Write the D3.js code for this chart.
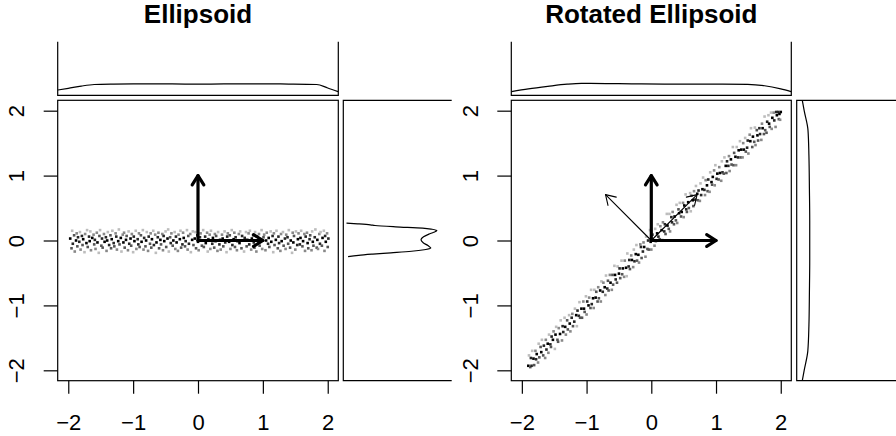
<!DOCTYPE html>
<html><head><meta charset="utf-8">
<script src="https://cdn.jsdelivr.net/npm/d3@7"></script>
<style>
html,body{margin:0;padding:0;background:#fff;}
svg{display:block;}
text{font-family:"Liberation Sans",Arial,Helvetica,sans-serif;fill:#000;}
</style>
</head><body>
<svg id="c" width="896" height="436"></svg>
<script>
// ---------- data (coordinates in hundredths of a unit) ----------
const tickValues = [-2, -1, 0, 1, 2];
const titles = ["Ellipsoid", "Rotated Ellipsoid"];

const leftX = [
-197,-195,-194,-193,-191,-190,-188,-187,-186,-185,-183,-182,-181,-179,-178,-177,-175,-174,-172,-171,
-170,-168,-167,-166,-165,-163,-161,-160,-159,-158,-156,-155,-153,-152,-151,-149,-148,-147,-145,-144,
-142,-141,-140,-139,-137,-135,-134,-133,-132,-130,-129,-127,-126,-125,-123,-122,-121,-119,-118,-116,
-115,-114,-113,-111,-110,-108,-107,-106,-104,-103,-102,-100,-99,-98,-96,-95,-93,-92,-91,-90,
-88,-87,-85,-84,-83,-81,-80,-79,-77,-76,-74,-73,-72,-71,-69,-68,-66,-65,-64,-62,
-61,-60,-58,-57,-55,-54,-53,-52,-50,-49,-47,-46,-45,-43,-42,-41,-39,-38,-36,-35,
-34,-33,-31,-30,-28,-27,-26,-24,-23,-22,-20,-19,-17,-16,-15,-14,-12,-11,-9,-8,
-7,-5,-4,-3,-1,0,1,3,4,6,7,8,9,11,12,14,15,16,18,19,
20,22,23,25,26,27,28,30,31,33,34,35,37,38,39,41,42,44,45,46,
48,49,50,52,53,55,56,57,58,60,61,63,64,65,67,68,69,71,72,74,
75,76,78,79,80,82,83,85,86,87,88,90,91,93,94,95,97,98,99,101,
102,104,105,106,108,109,110,112,113,115,116,117,118,120,121,123,124,125,127,128,
129,131,132,134,135,136,138,139,140,142,143,145,146,147,148,150,151,153,154,155,
157,158,159,161,162,164,165,166,168,169,170,172,173,175,176,177,178,180,181,183,
184,185,187,188,189,191,192,194,195,196,197,199,200,201];
const leftY = [
3,-12,15,-5,8,-17,0,11,-9,5,-2,13,-14,7,-7,2,-18,10,-4,16,
-10,6,-1,14,-15,4,9,-6,1,-13,12,-3,-19,7,16,-8,3,-11,10,-2,
5,-16,0,13,-7,8,-12,2,15,-4,-9,11,6,-14,-1,17,-6,4,-17,9,
-3,12,-11,1,7,-15,14,-5,3,-8,10,-18,6,-1,15,-13,2,-6,11,-10,
8,-2,16,-14,4,-9,0,13,-16,6,-5,11,-11,2,15,-7,9,-19,-3,5,
12,-12,1,-6,10,-15,7,-1,14,-10,3,17,-17,5,-4,11,-8,0,13,-13,
6,-3,-16,9,2,15,-11,-6,12,4,-9,-1,16,-14,7,-5,10,-18,1,14,
-7,3,13,-12,8,-2,-15,5,11,-8,0,16,-10,6,-4,12,-17,2,9,-13,
15,-5,4,-11,10,-1,7,-16,13,-6,1,-14,9,3,-9,14,-3,-18,6,11,
-2,8,-13,16,-7,2,12,-10,5,-15,-1,10,-4,14,-12,7,0,-17,4,13,
-9,1,11,-6,15,-14,3,8,-3,-11,13,-17,6,-1,10,-8,2,16,-13,5,
9,-15,0,12,-5,4,-10,14,-2,7,-18,11,-7,1,15,-12,6,-4,-16,10,
-1,13,-8,3,-13,9,5,-5,16,-11,0,-19,12,-3,7,-14,14,-7,2,11,
-6,4,15,-9,-1,10,-16,6,12,-4,-12,2,8,-15,14,-2,-8,5,17,-11,
1,-13,10,-5,13,-8,4,15,-16,7,-2,11,-10,3];
const leftShade = [
0,2,4,1,2,3,0,3,2,1,1,4,3,1,2,0,4,3,0,4,
2,1,0,4,3,0,3,2,1,3,3,0,4,2,4,2,1,2,3,0,
1,3,0,4,1,2,2,0,4,1,2,3,1,3,0,4,2,0,4,3,
0,3,2,0,2,3,4,1,0,2,3,4,1,0,4,3,1,1,3,2,
2,0,4,3,1,2,0,4,3,1,2,3,2,0,4,1,3,4,0,1,
3,2,0,2,3,3,1,0,4,2,0,4,4,2,1,3,2,0,4,3,
1,0,3,3,0,4,2,1,3,0,2,1,4,3,2,1,3,4,0,4,
2,0,4,2,1,0,3,1,3,2,0,4,2,1,0,3,4,1,3,3,
4,1,0,2,3,0,2,3,4,1,0,3,3,0,2,4,1,4,1,3,
0,2,3,4,1,0,3,2,1,3,0,3,0,4,2,1,0,4,1,4,
2,0,3,1,4,3,0,2,1,2,4,3,1,0,3,2,0,4,3,2,
3,3,0,3,1,0,2,4,0,1,4,3,2,0,4,2,1,1,3,3,
0,4,2,1,3,3,1,2,4,2,0,4,3,0,2,3,4,1,0,3,
1,0,4,2,0,3,3,1,3,0,2,1,2,3,4,0,2,1,4,2,
0,3,3,1,4,2,0,4,3,1,0,3,2,1];

const rightX = [
-190,-189,-187,-186,-185,-184,-182,-181,-179,-178,-177,-175,-174,-173,-171,-170,-169,-167,-166,-164,
-163,-162,-160,-159,-158,-156,-155,-154,-152,-151,-149,-148,-147,-145,-144,-143,-141,-140,-138,-137,
-136,-134,-133,-132,-130,-129,-127,-126,-125,-123,-122,-121,-119,-118,-116,-115,-114,-112,-111,-110,
-108,-107,-105,-104,-103,-101,-100,-99,-97,-96,-94,-93,-92,-90,-89,-88,-86,-85,-83,-82,
-81,-79,-78,-77,-75,-74,-72,-71,-70,-68,-67,-66,-64,-63,-61,-60,-59,-57,-56,-55,
-53,-52,-50,-49,-48,-46,-45,-44,-42,-41,-39,-38,-37,-35,-34,-33,-31,-30,-28,-27,
-26,-24,-23,-22,-20,-19,-17,-16,-15,-13,-12,-11,-9,-8,-6,-5,-4,-2,-1,0,
2,3,5,6,7,9,10,11,13,14,16,17,18,20,21,22,24,25,27,28,
29,31,32,33,35,36,38,39,40,42,43,44,46,47,49,50,51,53,54,55,
57,58,60,61,62,64,65,66,68,69,71,72,73,75,76,77,79,80,82,83,
84,86,87,88,90,91,93,94,95,97,98,99,101,102,104,105,106,108,109,110,
112,113,115,116,117,119,120,121,123,124,126,127,128,130,131,132,134,135,137,138,
139,141,142,143,145,146,148,149,150,152,153,154,156,157,159,160,161,163,164,165,
167,168,170,171,172,174,175,176,178,179,181,182,183,185,186,187,189,190,192,193,
194,196,197,198,199,200];
const rightY = [
-193,-177,-195,-181,-193,-170,-182,-192,-170,-183,-175,-188,-159,-180,-164,-172,-153,-177,-162,-181,
-153,-168,-159,-173,-145,-160,-164,-148,-153,-140,-167,-145,-133,-153,-156,-135,-144,-123,-154,-132,
-141,-119,-133,-145,-123,-137,-115,-128,-140,-119,-113,-132,-125,-105,-115,-132,-108,-116,-95,-119,
-105,-119,-94,-105,-110,-86,-114,-94,-100,-88,-104,-76,-98,-89,-104,-76,-88,-79,-94,-72,
-89,-77,-94,-63,-79,-65,-72,-84,-54,-74,-62,-77,-53,-65,-76,-53,-68,-39,-53,-60,
-65,-40,-51,-43,-58,-31,-52,-43,-56,-31,-42,-55,-20,-40,-30,-44,-23,-30,-41,-14,
-32,-21,-7,-31,-22,-34,-6,-10,-27,-17,-3,-10,-25,6,-13,0,-14,16,-2,-14,
9,0,-8,18,-1,11,25,6,2,22,16,1,28,14,25,10,41,23,18,41,
14,36,28,44,25,37,31,55,27,48,42,58,37,44,58,36,54,71,48,44,
59,50,73,45,69,62,53,76,63,84,72,62,77,61,88,70,79,97,78,70,
93,85,76,94,75,105,90,86,98,108,85,116,95,103,94,113,104,92,122,105,
103,128,115,104,122,115,130,107,125,117,144,116,135,129,116,144,128,139,153,128,
140,128,150,140,158,137,143,154,134,163,153,173,144,160,152,174,147,170,162,154,
173,164,155,180,173,164,191,170,166,183,193,180,175,197,172,189,197,185,175,198,
193,198,187,195,186,198];
const rightShade = [
0,4,2,1,1,4,0,2,3,1,0,3,4,2,2,0,4,2,1,3,
3,1,0,3,4,1,2,1,0,3,4,0,4,2,2,3,0,4,3,1,
1,4,0,3,2,2,4,0,3,1,3,2,1,4,0,4,1,1,4,2,
0,2,3,0,2,4,3,1,0,3,2,4,1,0,3,4,0,2,2,3,
2,0,3,4,1,3,0,3,4,1,2,2,3,0,3,2,2,4,0,1,
2,4,0,1,2,4,2,0,3,3,0,4,4,1,1,2,3,0,3,4,
1,0,4,2,0,3,3,1,2,1,3,0,3,4,2,1,2,4,0,3,
2,0,3,4,2,0,4,1,2,3,0,4,3,1,1,2,4,0,2,4,
3,1,1,3,2,0,2,4,3,2,0,4,2,0,3,3,0,4,1,2,
0,2,4,4,2,0,2,3,1,4,0,2,1,3,4,1,0,4,1,3,
3,0,2,1,3,4,0,2,0,3,3,4,1,0,2,3,0,3,4,1,
2,4,0,2,1,1,3,3,0,2,4,2,2,0,3,4,1,0,4,2,
0,3,3,0,4,2,1,1,3,3,0,4,2,0,2,4,3,2,0,2,
1,1,3,3,0,2,4,2,2,1,4,0,2,4,3,0,3,1,3,1,
0,1,2,0,3,0];

// marginal densities
const leftTopDensX = [-2.16,-2.0,-1.8,-1.6,-1.3,-1.0,-0.6,-0.2,0.2,0.6,1.0,1.4,1.83,2.0,2.16];
const leftTopDensV = [0.057,0.11,0.18,0.23,0.245,0.25,0.25,0.245,0.245,0.25,0.25,0.245,0.23,0.12,0.005];
const leftSideDensY = [0.268,0.257,0.242,0.231,0.211,0.191,0.173,0.154,0.126,0.099,0.057,0.011,-0.035,-0.082,-0.117,-0.143,-0.166,-0.190,-0.210,-0.228,-0.247];
const leftSideDensV = [0,0.35,0.75,0.9,1.55,2.4,2.7,2.85,2.75,2.6,2.43,2.35,2.42,2.58,2.66,2.45,2.05,1.4,0.83,0.38,0.05];
const rightTopDensX = [-2.16,-1.9,-1.6,-1.3,-1.08,-0.7,-0.3,0.2,0.7,1.1,1.49,1.75,2.0,2.16];
const rightTopDensV = [0.005,0.09,0.17,0.24,0.265,0.26,0.25,0.245,0.245,0.245,0.237,0.19,0.09,0.005];
const rightSideDensY = [2.16,2.0,1.7,1.3,0.8,0.3,-0.3,-0.8,-1.3,-1.7,-2.0,-2.16];
const rightSideDensV = [0.076,0.135,0.255,0.285,0.3,0.31,0.31,0.3,0.285,0.25,0.135,0.076];

// direction arrows
const leftThick = [[1,0],[0,1]];
const leftThin = [];
const rightThick = [[1,0],[0,1]];
const rightThin = [[0.707,0.707],[-0.707,0.707]];

const shadeColors = ["#000000","#262626","#555555","#888888","#bdbdbd"];

// ---------- drawing ----------
const svg = d3.select("#c");
const boxTop = 100.3, boxBottom = 380.7;
const margTop = 41.7, margBottom = 95.3;
const fmt = d3.format("d");

const panels = [
  {title:titles[0], left:57.7, right:338.3, sideLeft:343.3, sideRight:451.7,
   xs:leftX, ys:leftY, sh:leftShade,
   tdx:leftTopDensX, tdv:leftTopDensV, sdy:leftSideDensY, sdv:leftSideDensV,
   thick:leftThick, thin:leftThin},
  {title:titles[1], left:511.3, right:791.3, sideLeft:796.7, sideRight:900,
   xs:rightX, ys:rightY, sh:rightShade,
   tdx:rightTopDensX, tdv:rightTopDensV, sdy:rightSideDensY, sdv:rightSideDensV,
   thick:rightThick, thin:rightThin}
];

function drawArrow(g, x0, y0, x1, y1, w) {
  const a = Math.atan2(y1 - y0, x1 - x0);
  const len = 11, phi = Math.PI / 180 * 32;
  const w1 = [x1 - len * Math.cos(a - phi), y1 - len * Math.sin(a - phi)];
  const w2 = [x1 - len * Math.cos(a + phi), y1 - len * Math.sin(a + phi)];
  g.append("line").attr("x1", x0).attr("y1", y0).attr("x2", x1).attr("y2", y1)
    .attr("stroke", "#000").attr("stroke-width", w).attr("stroke-linecap", "round");
  g.append("path").attr("d", `M${w1[0]},${w1[1]}L${x1},${y1}L${w2[0]},${w2[1]}`)
    .attr("fill", "none").attr("stroke", "#000").attr("stroke-width", w)
    .attr("stroke-linecap", "round").attr("stroke-linejoin", "round");
}

panels.forEach(p => {
  const x = d3.scaleLinear().domain([-2.163, 2.163]).range([p.left, p.right]);
  const y = d3.scaleLinear().domain([-2.16, 2.16]).range([boxBottom, boxTop]);
  const g = svg.append("g");

  // points
  const pts = p.xs.map((v, i) => ({x: v / 100, y: p.ys[i] / 100, s: p.sh[i]}));
  const ps = 2.6;
  g.append("g").selectAll("rect").data(pts).join("rect")
    .attr("x", d => x(d.x) - ps / 2).attr("y", d => y(d.y) - ps / 2)
    .attr("width", ps).attr("height", ps)
    .attr("fill", d => shadeColors[d.s]);

  // arrows
  const ox = x(0), oy = y(0);
  p.thin.forEach(v => drawArrow(g, ox, oy, x(v[0]), y(v[1]), 1.1));
  p.thick.forEach(v => drawArrow(g, ox, oy, x(v[0]), y(v[1]), 3.2));

  // main box
  g.append("rect").attr("x", p.left).attr("y", boxTop)
    .attr("width", p.right - p.left).attr("height", boxBottom - boxTop)
    .attr("fill", "none").attr("stroke", "#000").attr("stroke-width", 1.2);

  // bottom axis
  const ax = g.append("g").attr("transform", `translate(0,${boxBottom})`)
    .call(d3.axisBottom(x).tickValues(tickValues).tickFormat(fmt).tickSize(13).tickSizeOuter(0).tickPadding(21));
  ax.select(".domain").remove();
  ax.selectAll("line").attr("stroke", "#000").attr("stroke-width", 1.2);
  ax.selectAll("text").style("font-size", "22px").attr("fill", "#000");

  // left axis
  const ay = g.append("g").attr("transform", `translate(${p.left},0)`)
    .call(d3.axisLeft(y).tickValues(tickValues).tickFormat(fmt).tickSize(14).tickSizeOuter(0));
  ay.select(".domain").remove();
  ay.selectAll("line").attr("stroke", "#000").attr("stroke-width", 1.2);
  ay.selectAll("text").style("font-size", "22px").attr("fill", "#000")
    .attr("x", null).attr("dy", null).attr("text-anchor", "middle")
    .attr("transform", "translate(-33.5,0) rotate(-90)");

  // title
  g.append("text").attr("x", (p.left + p.right) / 2).attr("y", 22.5)
    .attr("text-anchor", "middle").style("font-size", "26px").style("font-weight", "bold")
    .text(p.title);

  // top marginal box (open at top)
  g.append("path").attr("d", `M${p.left},${margTop}V${margBottom}H${p.right}V${margTop}`)
    .attr("fill", "none").attr("stroke", "#000").attr("stroke-width", 1.2);
  // side marginal box (open at right)
  g.append("path").attr("d", `M${p.sideRight},${boxTop}H${p.sideLeft}V${boxBottom}H${p.sideRight}`)
    .attr("fill", "none").attr("stroke", "#000").attr("stroke-width", 1.2);

  // density scales
  const dTop = d3.scaleLinear().domain([0, 1]).range([margBottom - 3.5, margBottom - 3.5 - 31.7]);
  const dSide = d3.scaleLinear().domain([0, 1]).range([p.sideLeft + 3.2, p.sideLeft + 3.2 + 31.7]);

  const topLine = d3.line().x((d, i) => x(p.tdx[i])).y((d, i) => dTop(p.tdv[i])).curve(d3.curveMonotoneX);
  g.append("path").attr("d", topLine(p.tdx)).attr("fill", "none").attr("stroke", "#000").attr("stroke-width", 1.2);

  const sideLine = d3.line().x((d, i) => dSide(p.sdv[i])).y((d, i) => y(p.sdy[i])).curve(d3.curveMonotoneY);
  g.append("path").attr("d", sideLine(p.sdy)).attr("fill", "none").attr("stroke", "#000").attr("stroke-width", 1.2);
});
</script>
</body></html>
